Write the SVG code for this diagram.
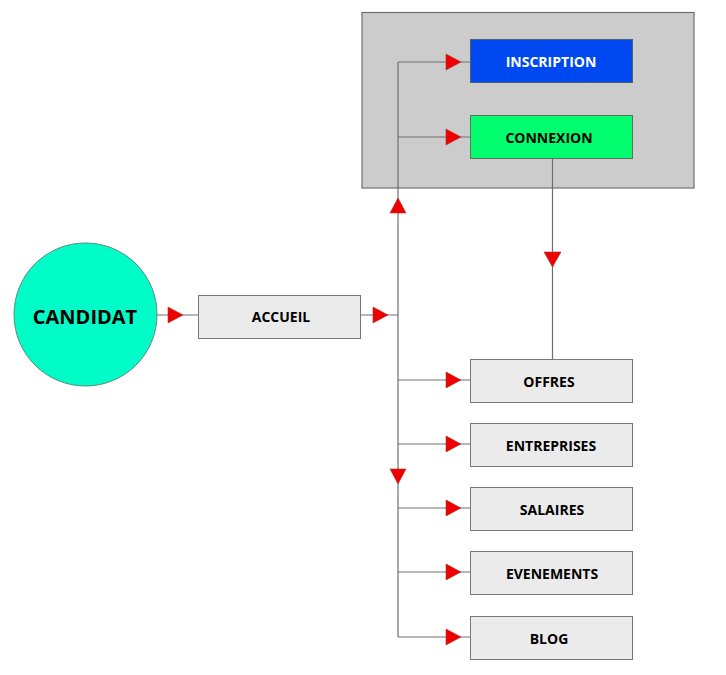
<svg xmlns="http://www.w3.org/2000/svg" width="726" height="675" viewBox="0 0 726 675">
<style>
.box{fill:#ebebeb;stroke:#777;stroke-width:1}
.lbl{font-family:"Open Sans","Noto Sans","Liberation Sans",sans-serif;font-weight:bold;font-size:14px;text-anchor:middle;dominant-baseline:central;fill:#000}
.ln{stroke:#707070;stroke-width:1.2;fill:none}
.ah{fill:#ee0000;stroke:#b03030;stroke-width:0.6}
</style>
<rect width="726" height="675" fill="#fff"/>
<g id="zone">
<rect x="362" y="12.5" width="332" height="175.5" fill="#cccccc" stroke="#707070" stroke-width="1.2"/>
</g>
<g id="connectors">
<path class="ln" d="M157 315H198M361 315H398M398 62V637M398 62H470M398 137H470M398 380H470M398 444H470M398 508H470M398 572H470M398 637H470M552.5 158V359"/>
<polygon class="ah" points="168,307 183,315 168,323"/>
<polygon class="ah" points="373,307 388,315 373,323"/>
<polygon class="ah" points="446,54 461,62 446,70"/>
<polygon class="ah" points="446,129 461,137 446,145"/>
<polygon class="ah" points="446,372 461,380 446,388"/>
<polygon class="ah" points="446,436 461,444 446,452"/>
<polygon class="ah" points="446,500 461,508 446,516"/>
<polygon class="ah" points="446,564 461,572 446,580"/>
<polygon class="ah" points="446,629 461,637 446,645"/>
<polygon class="ah" points="390,213 398,198 406,213"/>
<polygon class="ah" points="390,469 398,484 406,469"/>
<polygon class="ah" points="544,252 552.5,267 561,252"/>
</g>
<g id="candidat">
<circle cx="85.5" cy="314.5" r="71.5" fill="#00fdc8" stroke="#5a8a80" stroke-width="1"/>
<text class="lbl" x="85" y="316" style="font-size:20px">CANDIDAT</text>
</g>
<g id="accueil">
<rect class="box" x="198.5" y="295.5" width="162" height="43"/>
<text class="lbl" x="281" y="316">ACCUEIL</text>
</g>
<g id="inscription">
<rect x="470.5" y="39.5" width="162" height="43" fill="#0048f0" stroke="#506070" stroke-width="1"/>
<text class="lbl" x="551" y="61" style="fill:#fff">INSCRIPTION</text>
</g>
<g id="connexion">
<rect x="470.5" y="115.5" width="162" height="43" fill="#00fe6e" stroke="#607060" stroke-width="1"/>
<text class="lbl" x="549" y="137">CONNEXION</text>
</g>
<g id="offres">
<rect class="box" x="470.5" y="359.5" width="162" height="43"/>
<text class="lbl" x="549" y="381">OFFRES</text>
</g>
<g id="entreprises">
<rect class="box" x="470.5" y="423.5" width="162" height="43"/>
<text class="lbl" x="551" y="445">ENTREPRISES</text>
</g>
<g id="salaires">
<rect class="box" x="470.5" y="487.5" width="162" height="43"/>
<text class="lbl" x="552" y="509">SALAIRES</text>
</g>
<g id="evenements">
<rect class="box" x="470.5" y="551.5" width="162" height="43"/>
<text class="lbl" x="552" y="573">EVENEMENTS</text>
</g>
<g id="blog">
<rect class="box" x="470.5" y="616.5" width="162" height="43"/>
<text class="lbl" x="549" y="638">BLOG</text>
</g>
</svg>
